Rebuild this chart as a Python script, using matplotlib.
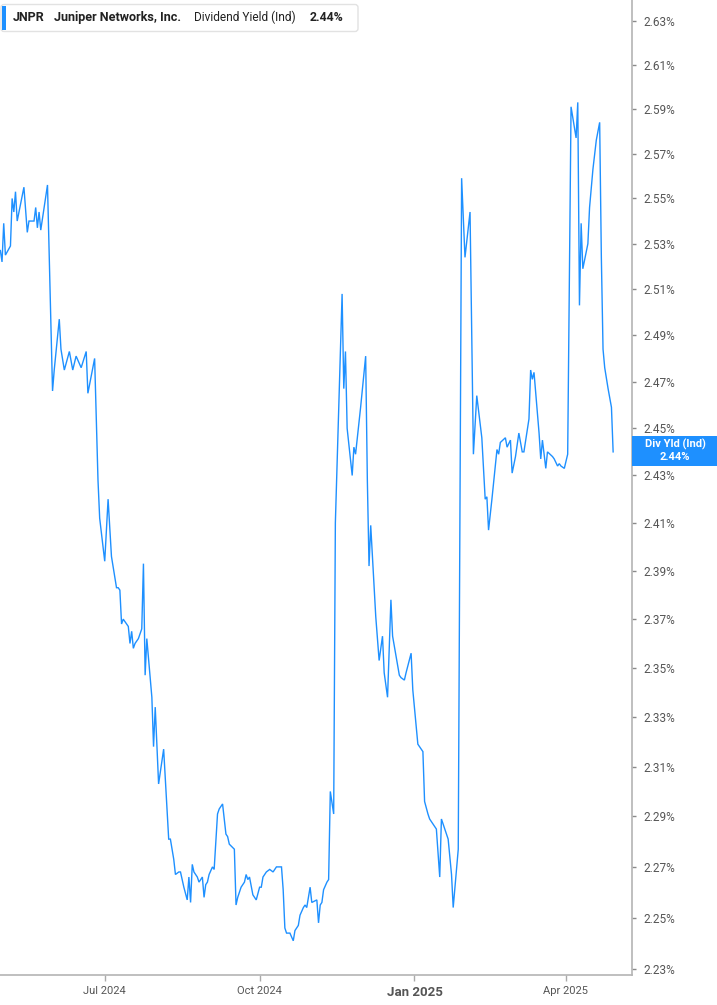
import matplotlib
matplotlib.use("Agg")
import matplotlib.pyplot as plt
from matplotlib.ticker import FixedLocator, NullLocator, FuncFormatter
from matplotlib.patches import FancyBboxPatch, Rectangle
import pandas as pd

# ---------------- data ----------------
dates_q2_2024 = ["2024-04-30", "2024-05-01", "2024-05-02", "2024-05-03", "2024-05-06", "2024-05-07",
                 "2024-05-08", "2024-05-09", "2024-05-10", "2024-05-14", "2024-05-16", "2024-05-17",
                 "2024-05-20", "2024-05-21", "2024-05-22", "2024-05-23", "2024-05-24", "2024-05-28",
                 "2024-05-31", "2024-06-01", "2024-06-04", "2024-06-05", "2024-06-07", "2024-06-10",
                 "2024-06-12", "2024-06-14", "2024-06-17", "2024-06-20", "2024-06-21", "2024-06-25",
                 "2024-06-27", "2024-06-28"]
yld_q2_2024 = [2.527, 2.522, 2.539, 2.525, 2.529, 2.550, 2.544, 2.553, 2.540, 2.555, 2.535, 2.540,
               2.540, 2.546, 2.537, 2.544, 2.536, 2.556, 2.466, 2.475, 2.497, 2.484, 2.475, 2.483,
               2.475, 2.481, 2.476, 2.483, 2.465, 2.480, 2.428, 2.412]

dates_q3_2024 = ["2024-07-01", "2024-07-03", "2024-07-05", "2024-07-08", "2024-07-09", "2024-07-10",
                 "2024-07-11", "2024-07-12", "2024-07-15", "2024-07-16", "2024-07-17", "2024-07-18",
                 "2024-07-19", "2024-07-21", "2024-07-23", "2024-07-24", "2024-07-25", "2024-07-26",
                 "2024-07-29", "2024-07-30", "2024-07-31", "2024-08-02", "2024-08-05", "2024-08-06",
                 "2024-08-08", "2024-08-09", "2024-08-11", "2024-08-12", "2024-08-14", "2024-08-15",
                 "2024-08-17", "2024-08-19", "2024-08-20", "2024-08-21", "2024-08-22", "2024-08-23",
                 "2024-08-25", "2024-08-26", "2024-08-28", "2024-08-29", "2024-08-30", "2024-08-31",
                 "2024-09-01", "2024-09-03", "2024-09-04", "2024-09-06", "2024-09-07", "2024-09-09",
                 "2024-09-11", "2024-09-12", "2024-09-13", "2024-09-16", "2024-09-17", "2024-09-18",
                 "2024-09-20", "2024-09-22", "2024-09-23", "2024-09-24", "2024-09-25", "2024-09-27",
                 "2024-09-29"]
yld_q3_2024 = [2.394, 2.420, 2.396, 2.383, 2.383, 2.382, 2.368, 2.370, 2.367, 2.360, 2.365, 2.358,
               2.360, 2.362, 2.366, 2.393, 2.347, 2.362, 2.338, 2.318, 2.334, 2.303, 2.317, 2.305,
               2.281, 2.281, 2.273, 2.267, 2.268, 2.268, 2.262, 2.257, 2.266, 2.256, 2.271, 2.268,
               2.266, 2.264, 2.266, 2.258, 2.263, 2.264, 2.267, 2.270, 2.269, 2.291, 2.293, 2.295,
               2.283, 2.282, 2.279, 2.277, 2.255, 2.258, 2.262, 2.264, 2.267, 2.265, 2.266, 2.259,
               2.257]

dates_q4_2024 = ["2024-10-01", "2024-10-02", "2024-10-03", "2024-10-05", "2024-10-07", "2024-10-09",
                 "2024-10-11", "2024-10-14", "2024-10-15", "2024-10-16", "2024-10-17", "2024-10-19",
                 "2024-10-21", "2024-10-22", "2024-10-24", "2024-10-25", "2024-10-27", "2024-10-28",
                 "2024-10-29", "2024-10-31", "2024-11-01", "2024-11-04", "2024-11-05", "2024-11-06",
                 "2024-11-07", "2024-11-08", "2024-11-10", "2024-11-11", "2024-11-12", "2024-11-14",
                 "2024-11-15", "2024-11-19", "2024-11-20", "2024-11-21", "2024-11-22", "2024-11-25",
                 "2024-11-26", "2024-11-27", "2024-11-30", "2024-12-03", "2024-12-04", "2024-12-05",
                 "2024-12-06", "2024-12-09", "2024-12-11", "2024-12-13", "2024-12-14", "2024-12-16",
                 "2024-12-18", "2024-12-19", "2024-12-23", "2024-12-24", "2024-12-26", "2024-12-27",
                 "2024-12-30", "2024-12-31"]
yld_q4_2024 = [2.262, 2.262, 2.266, 2.268, 2.269, 2.268, 2.270, 2.270, 2.261, 2.246, 2.244, 2.244,
               2.241, 2.245, 2.247, 2.251, 2.254, 2.255, 2.254, 2.262, 2.256, 2.257, 2.248, 2.255,
               2.256, 2.261, 2.264, 2.265, 2.300, 2.291, 2.410, 2.508, 2.467, 2.483, 2.450, 2.430,
               2.442, 2.439, 2.459, 2.481, 2.428, 2.392, 2.409, 2.371, 2.353, 2.363, 2.348, 2.338,
               2.378, 2.363, 2.347, 2.346, 2.345, 2.348, 2.356, 2.341]

dates_2025 = ["2025-01-03", "2025-01-04", "2025-01-06", "2025-01-07", "2025-01-09", "2025-01-10",
              "2025-01-13", "2025-01-14", "2025-01-16", "2025-01-17", "2025-01-21", "2025-01-23",
              "2025-01-24", "2025-01-27", "2025-01-29", "2025-01-31", "2025-02-03", "2025-02-05",
              "2025-02-07", "2025-02-10", "2025-02-12", "2025-02-13", "2025-02-14", "2025-02-16",
              "2025-02-19", "2025-02-20", "2025-02-21", "2025-02-24", "2025-02-25", "2025-02-27",
              "2025-02-28", "2025-03-02", "2025-03-04", "2025-03-06", "2025-03-07", "2025-03-10",
              "2025-03-11", "2025-03-12", "2025-03-13", "2025-03-16", "2025-03-17", "2025-03-18",
              "2025-03-20", "2025-03-21", "2025-03-24", "2025-03-25", "2025-03-27", "2025-03-28",
              "2025-03-29", "2025-03-31", "2025-04-02", "2025-04-04", "2025-04-07", "2025-04-08",
              "2025-04-09", "2025-04-10", "2025-04-11", "2025-04-14", "2025-04-15", "2025-04-17",
              "2025-04-19", "2025-04-21", "2025-04-22", "2025-04-23", "2025-04-24", "2025-04-26",
              "2025-04-28", "2025-04-29"]
yld_2025 = [2.319, 2.318, 2.316, 2.296, 2.291, 2.289, 2.286, 2.285, 2.266, 2.289, 2.281, 2.267,
            2.254, 2.277, 2.559, 2.524, 2.544, 2.439, 2.464, 2.446, 2.420, 2.421, 2.407, 2.420,
            2.441, 2.439, 2.444, 2.446, 2.442, 2.445, 2.431, 2.438, 2.448, 2.440, 2.440, 2.454,
            2.475, 2.471, 2.474, 2.448, 2.437, 2.445, 2.433, 2.440, 2.438, 2.437, 2.434, 2.435,
            2.434, 2.433, 2.439, 2.591, 2.577, 2.593, 2.503, 2.539, 2.519, 2.530, 2.546, 2.563,
            2.576, 2.584, 2.524, 2.484, 2.476, 2.467, 2.459, 2.440]

y_ticks = [2.23, 2.25, 2.27, 2.29, 2.31, 2.33, 2.35, 2.37, 2.39, 2.41, 2.43,
           2.45, 2.47, 2.49, 2.51, 2.53, 2.55, 2.57, 2.59, 2.61, 2.63]
x_tick_dates = ["2024-07-01", "2024-10-01", "2025-01-01", "2025-04-01"]
x_tick_labels = ["Jul 2024", "Oct 2024", "Jan 2025", "Apr 2025"]

ticker_sym = "JNPR"
company = "Juniper Networks, Inc."
metric = "Dividend Yield (Ind)"
last_value = "2.44%"
badge_title = "Div Yld (Ind)"

# ---------------- figure ----------------
W, H = 717, 1005
BLUE = "#1e90ff"
FONT = "Roboto"
plt.rcParams["font.family"] = [FONT, "DejaVu Sans"]

dates = pd.to_datetime(dates_q2_2024 + dates_q3_2024 + dates_q4_2024 + dates_2025)
yld = yld_q2_2024 + yld_q3_2024 + yld_q4_2024 + yld_2025

fig = plt.figure(figsize=(W / 100, H / 100), dpi=100)
fig.patch.set_facecolor("white")

plot_right = 632
plot_bottom = 975
ax = fig.add_axes([0, 1 - plot_bottom / H, plot_right / W, plot_bottom / H])
ax.plot(dates, yld, color=BLUE, lw=1.0, solid_joinstyle="miter")

ax.set_yscale("log")
ax.set_ylim(2.2277, 2.6396)
ax.set_xlim(pd.Timestamp("2024-04-29 19:00"), pd.Timestamp("2025-05-10 05:00"))

ax.yaxis.tick_right()
ax.yaxis.set_major_locator(FixedLocator(y_ticks))
ax.yaxis.set_minor_locator(NullLocator())
ax.yaxis.set_major_formatter(FuncFormatter(lambda v, p: f"{v:.2f}%"))
ax.tick_params(axis="y", which="major", direction="out", length=3, width=1,
               color="#8a8a8a", labelcolor="#555555", labelsize=8.5, pad=5)

ax.set_xticks(pd.to_datetime(x_tick_dates))
ax.set_xticklabels(x_tick_labels)
ax.xaxis.set_minor_locator(NullLocator())
ax.tick_params(axis="x", which="major", direction="out", length=4, width=1,
               color="#aaaaaa", labelcolor="#555555", labelsize=8, pad=4)
for lab in ax.get_xticklabels():
    if lab.get_text().startswith("Jan"):
        lab.set_fontweight("bold")
        lab.set_fontsize(9.5)

for side in ("top", "left"):
    ax.spines[side].set_visible(False)
for side in ("right", "bottom"):
    ax.spines[side].set_color("#b4b4b4")
    ax.spines[side].set_linewidth(1.2)
ax.set_facecolor("white")

# ---------------- overlay in pixel coordinates ----------------
ov = fig.add_axes([0, 0, 1, 1])
ov.set_xlim(0, W)
ov.set_ylim(H, 0)
ov.axis("off")
ov.patch.set_alpha(0)

# header box
ov.add_patch(FancyBboxPatch((1, 4.5), 357, 27, boxstyle="round,pad=0,rounding_size=3",
                            fc="white", ec="#e2e2e2", lw=1))
ov.add_patch(Rectangle((2, 6), 3.5, 24, fc=BLUE, ec="none"))
ov.text(13, 17.5, ticker_sym, fontsize=9.0, fontweight="bold", color="#222222", va="center", ha="left")
ov.text(54, 17.5, company, fontsize=9.1, fontweight="bold", color="#222222", va="center", ha="left")
ov.text(194, 17.5, metric, fontsize=8.6, color="#222222", va="center", ha="left")
ov.text(310, 17.5, last_value, fontsize=8.8, fontweight="bold", color="#222222", va="center", ha="left")

# current value badge
ov.add_patch(Rectangle((plot_right, 436), W - plot_right, 30, fc=BLUE, ec="none"))
ov.text(675, 444.5, badge_title, fontsize=8, fontweight="bold", color="white", va="center", ha="center")
ov.text(675, 457, last_value, fontsize=8, fontweight="bold", color="white", va="center", ha="center")

fig.savefig("out.png", dpi=100, facecolor="white")
